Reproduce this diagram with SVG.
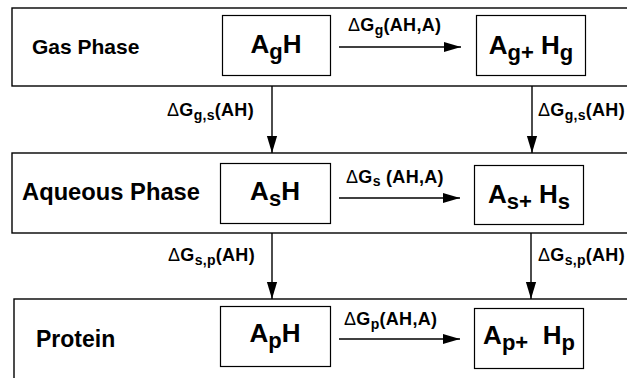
<svg xmlns="http://www.w3.org/2000/svg" width="627" height="378" viewBox="0 0 627 378">
  <style>
    .phase { fill: #fff; stroke: #000; stroke-width: 1.4; }
    .node { fill: #fff; stroke: #000; stroke-width: 1.2; }
    .title { font-family: "Liberation Sans", Arial, sans-serif; font-weight: bold; font-size: 21px; fill: #000; }
    .big { font-size: 23px; }
    .species { font-family: "Liberation Sans", Arial, sans-serif; font-weight: bold; font-size: 26px; fill: #000; }
    .lbl { font-family: "Liberation Sans", Arial, sans-serif; font-weight: bold; font-size: 18px; letter-spacing: 0.3px; fill: #000; }
    .delta { font-weight: normal; }
    .sub { font-size: 14px; }
    .nsub { font-size: 22px; }
    .conn { stroke: #000; stroke-width: 1.4; fill: none; marker-end: url(#arrow); }
  </style>
  <defs>
    <marker id="arrow" viewBox="0 0 10 10" refX="10" refY="5" markerWidth="17" markerHeight="17" markerUnits="userSpaceOnUse" orient="auto">
      <path d="M0,2 L10,5 L0,8 Z" fill="#000"/>
    </marker>
  </defs>

  <!-- phase panels -->
  <g id="gas-phase">
    <rect class="phase" x="12" y="8" width="640" height="78"/>
    <text class="title" x="32" y="54">Gas Phase</text>
  </g>
  <g id="aqueous-phase">
    <rect class="phase" x="12" y="153" width="640" height="80"/>
    <text class="title big" x="22" y="200" textLength="178" lengthAdjust="spacingAndGlyphs">Aqueous Phase</text>
  </g>
  <g id="protein-phase">
    <rect class="phase" x="14" y="299" width="640" height="100"/>
    <text class="title big" x="36" y="347">Protein</text>
  </g>

  <!-- species nodes -->
  <g id="AgH">
    <rect class="node" x="222.5" y="15.5" width="108" height="60"/>
    <text class="species" x="276" y="53" text-anchor="middle">A<tspan class="nsub" dy="6">g</tspan><tspan dy="-6">H</tspan></text>
  </g>
  <g id="Ag-Hg">
    <rect class="node" x="476.5" y="15.5" width="109" height="60"/>
    <text class="species" x="531" y="54" text-anchor="middle">A<tspan class="nsub" dy="6">g+</tspan><tspan dy="-6"> H</tspan><tspan class="nsub" dy="6">g</tspan></text>
  </g>
  <g id="AsH">
    <rect class="node" x="220.5" y="163.5" width="110" height="60"/>
    <text class="species" x="275" y="200" text-anchor="middle">A<tspan class="nsub" dy="6">s</tspan><tspan dy="-6">H</tspan></text>
  </g>
  <g id="As-Hs">
    <rect class="node" x="474.5" y="165.5" width="109" height="59"/>
    <text class="species" x="529" y="203" text-anchor="middle">A<tspan class="nsub" dy="6">s+</tspan><tspan dy="-6"> H</tspan><tspan class="nsub" dy="6">s</tspan></text>
  </g>
  <g id="ApH">
    <rect class="node" x="220.5" y="306.5" width="110" height="60"/>
    <text class="species" x="275" y="342" text-anchor="middle">A<tspan class="nsub" dy="6">p</tspan><tspan dy="-6">H</tspan></text>
  </g>
  <g id="Ap-Hp">
    <rect class="node" x="474.5" y="308.5" width="109" height="60"/>
    <text class="species" x="529" y="344" text-anchor="middle">A<tspan class="nsub" dy="6">p+</tspan><tspan dy="-6" xml:space="preserve">  H</tspan><tspan class="nsub" dy="6">p</tspan></text>
  </g>

  <!-- connectors -->
  <g id="connectors">
    <line class="conn" x1="339" y1="47" x2="461" y2="47"/>
    <line class="conn" x1="339" y1="198" x2="460" y2="198"/>
    <line class="conn" x1="339" y1="339" x2="460" y2="339"/>
    <line class="conn" x1="272" y1="86" x2="272" y2="153"/>
    <line class="conn" x1="532" y1="86" x2="532" y2="153"/>
    <line class="conn" x1="272" y1="233" x2="272" y2="299"/>
    <line class="conn" x1="531" y1="233" x2="531" y2="299"/>
  </g>

  <!-- transition labels -->
  <g id="labels">
    <text class="lbl" x="348" y="31"><tspan class="delta">Δ</tspan>G<tspan class="sub" dy="4">g</tspan><tspan dy="-4">(AH,A)</tspan></text>
    <text class="lbl" x="346" y="183"><tspan class="delta">Δ</tspan>G<tspan class="sub" dy="3">s</tspan><tspan dy="-3"> (AH,A)</tspan></text>
    <text class="lbl" x="344" y="325"><tspan class="delta">Δ</tspan>G<tspan class="sub" dy="4">p</tspan><tspan dy="-4">(AH,A)</tspan></text>
    <text class="lbl" x="167" y="116"><tspan class="delta">Δ</tspan>G<tspan class="sub" dy="4">g,s</tspan><tspan dy="-4">(AH)</tspan></text>
    <text class="lbl" x="538" y="116"><tspan class="delta">Δ</tspan>G<tspan class="sub" dy="4">g,s</tspan><tspan dy="-4">(AH)</tspan></text>
    <text class="lbl" x="168" y="261"><tspan class="delta">Δ</tspan>G<tspan class="sub" dy="4">s,p</tspan><tspan dy="-4">(AH)</tspan></text>
    <text class="lbl" x="538" y="261"><tspan class="delta">Δ</tspan>G<tspan class="sub" dy="4">s,p</tspan><tspan dy="-4">(AH)</tspan></text>
  </g>
</svg>
